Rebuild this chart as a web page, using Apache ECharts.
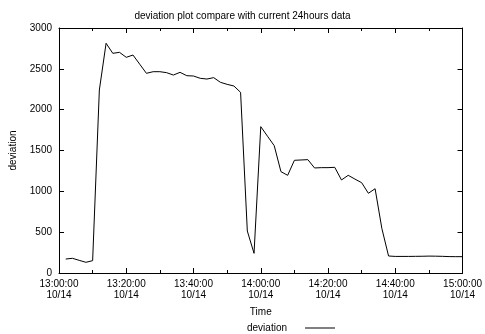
<!DOCTYPE html>
<html>
<head>
<meta charset="utf-8">
<script src="https://cdn.jsdelivr.net/npm/echarts@6/dist/echarts.min.js"></script>
<style>html,body{margin:0;padding:0;background:#fff}#c{width:485px;height:334px}</style>
</head>
<body>
<div id="c"></div>
<script>
// minutes after 13:00:00 on 10/14
var minutes = [2,4,6,8,10,12,14,16,18,20,22,24,26,28,30,32,34,36,38,40,42,44,46,48,50,52,54,56,58,60,62,64,66,68,70,72,74,76,78,80,82,84,86,88,90,92,94,96,98,100,102,104,106,108,110,112,114,116,118,120];
var deviation = [171,180,155,131,151,2241,2813,2690,2702,2641,2669,2557,2445,2465,2465,2453,2424,2457,2416,2412,2384,2375,2392,2335,2310,2290,2212,514,241,1792,1675,1559,1241,1196,1380,1384,1388,1286,1290,1290,1294,1139,1196,1150,1106,976,1032,547,208,203,203,203,204,205,207,206,204,201,200,200];
var xTickLabels = ["13:00:00\n10/14","13:20:00\n10/14","13:40:00\n10/14","14:00:00\n10/14","14:20:00\n10/14","14:40:00\n10/14","15:00:00\n10/14"];
var yTicks = [0,500,1000,1500,2000,2500,3000];

var font = 'Liberation Sans';
var data = minutes.map(function(m,i){return [m, deviation[i]];});
var chart = echarts.init(document.getElementById('c'), null, {renderer:'canvas'});
var axLine = {show:true, onZero:false, lineStyle:{color:'#000', width:1}};
chart.setOption({
  animation:false,
  backgroundColor:'#fff',
  title:{text:'deviation plot compare with current 24hours data', left:'center', top:6,
    textStyle:{fontFamily:font, fontSize:10, fontWeight:'normal', color:'#000'}},
  grid:{left:56, right:17, top:28, bottom:61},
  legend:{data:[{name:'deviation', icon:'rect'}], left:242, top:318, align:'right',
    itemWidth:30, itemHeight:1,
    textStyle:{fontFamily:font, fontSize:10, color:'#000', padding:[0,13,0,0]}},
  xAxis:[{type:'value', min:0, max:120, interval:20, position:'bottom',
    name:'Time', nameLocation:'middle', nameGap:34,
    nameTextStyle:{fontFamily:font, fontSize:10, color:'#000'},
    axisLine:axLine, splitLine:{show:false},
    axisTick:{show:true, inside:true, length:5, lineStyle:{color:'#000'}},
    minorTick:{show:true, splitNumber:2, length:3, lineStyle:{color:'#000'}},
    axisLabel:{fontFamily:font, fontSize:10, color:'#000', lineHeight:11, margin:6,
      formatter:function(v){return xTickLabels[Math.round(v/20)];}}},
   {type:'value', min:0, max:120, interval:20, position:'top',
    axisLine:axLine, splitLine:{show:false}, axisLabel:{show:false},
    axisTick:{show:true, inside:true, length:5, lineStyle:{color:'#000'}},
    minorTick:{show:true, splitNumber:2, length:3, lineStyle:{color:'#000'}}}],
  yAxis:[{type:'value', min:0, max:3000, interval:500, position:'left',
    name:'deviation', nameLocation:'middle', nameGap:41, nameRotate:90,
    nameTextStyle:{fontFamily:font, fontSize:10, color:'#000'},
    axisLine:axLine, splitLine:{show:false},
    axisTick:{show:true, inside:true, length:5, lineStyle:{color:'#000'}},
    axisLabel:{fontFamily:font, fontSize:10, color:'#000', margin:7,
      formatter:function(v){return yTicks.indexOf(v)>=0 ? String(v) : '';}}},
   {type:'value', min:0, max:3000, interval:500, position:'right',
    axisLine:axLine, splitLine:{show:false}, axisLabel:{show:false},
    axisTick:{show:true, inside:true, length:5, lineStyle:{color:'#000'}}}],
  series:[{name:'deviation', type:'line', xAxisIndex:0, yAxisIndex:0, data:data,
    showSymbol:false, symbol:'none', color:'#000',
    lineStyle:{color:'#000', width:1}}]
});
</script>
</body>
</html>
